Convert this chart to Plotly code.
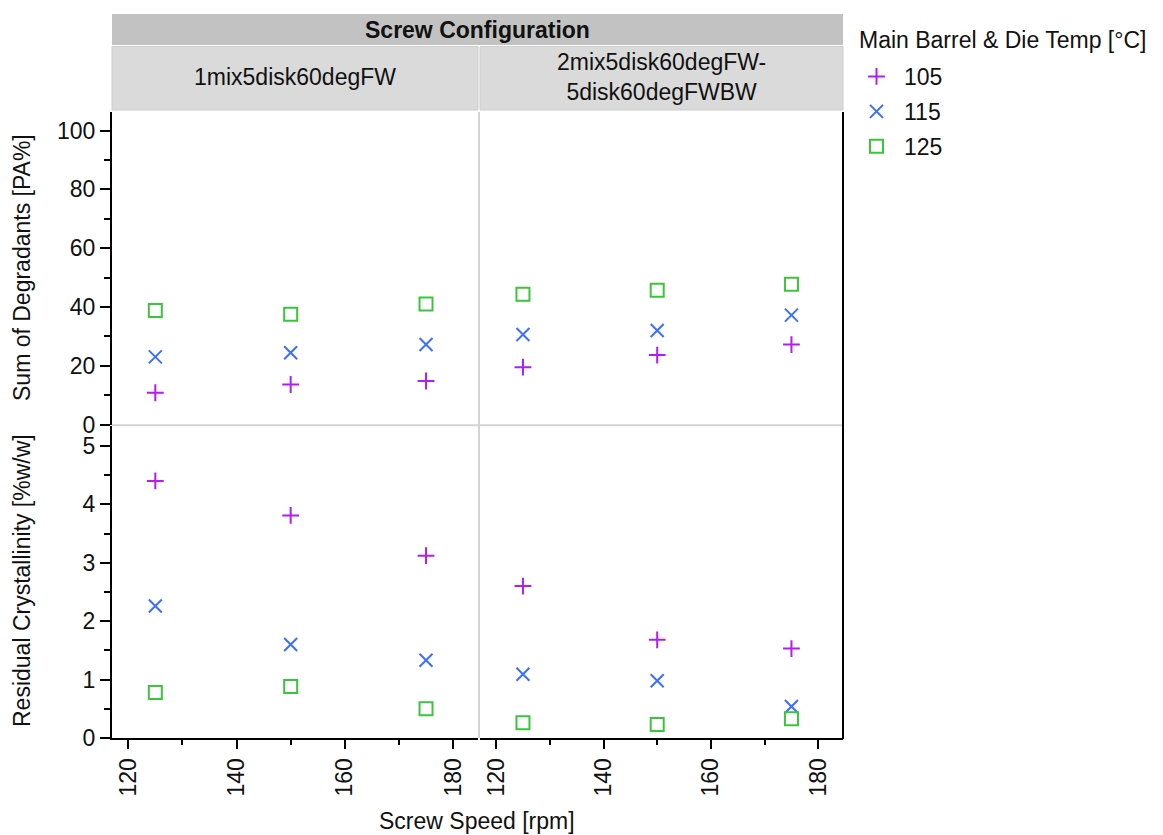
import plotly.graph_objects as go

# ---------------- data ----------------
speeds = [125, 150, 175]
configs = ["1mix5disk60degFW", "2mix5disk60degFW-<br>5disk60degFWBW"]
temps = ["105", "115", "125"]

degr_cfg1_105 = [10.8, 13.6, 14.8]
degr_cfg1_115 = [23.0, 24.4, 27.2]
degr_cfg1_125 = [38.8, 37.5, 41.0]
degr_cfg2_105 = [19.5, 23.6, 27.2]
degr_cfg2_115 = [30.6, 32.0, 37.2]
degr_cfg2_125 = [44.3, 45.7, 47.7]

cryst_cfg1_105 = [4.40, 3.81, 3.12]
cryst_cfg1_115 = [2.26, 1.60, 1.33]
cryst_cfg1_125 = [0.78, 0.88, 0.50]
cryst_cfg2_105 = [2.60, 1.68, 1.53]
cryst_cfg2_115 = [1.09, 0.98, 0.54]
cryst_cfg2_125 = [0.26, 0.23, 0.33]

x_ticks = [120, 140, 160, 180]

# ---------------- styling ----------------
W, H = 1163, 835
FONT = "Liberation Sans, Arial, sans-serif"
FS = 23

def px(x):
    return x / W

def py(y):
    return 1 - y / H

colors = {"105": "#B01EF5", "115": "#3C6EFF", "125": "#3CC43C"}
symbols = {"105": "cross-thin-open", "115": "x-thin-open", "125": "square-open"}
sizes = {"105": 12, "115": 13, "125": 13}

panels = [
    ("x", "y", {"105": degr_cfg1_105, "115": degr_cfg1_115, "125": degr_cfg1_125}),
    ("x2", "y2", {"105": degr_cfg2_105, "115": degr_cfg2_115, "125": degr_cfg2_125}),
    ("x3", "y3", {"105": cryst_cfg1_105, "115": cryst_cfg1_115, "125": cryst_cfg1_125}),
    ("x4", "y4", {"105": cryst_cfg2_105, "115": cryst_cfg2_115, "125": cryst_cfg2_125}),
]

fig = go.Figure()
for i, (xa, ya, d) in enumerate(panels):
    for t in temps:
        fig.add_trace(go.Scatter(
            x=speeds, y=d[t], xaxis=xa, yaxis=ya, mode="markers",
            name=t, legendgroup=t, showlegend=(i == 0),
            marker=dict(symbol=symbols[t], size=sizes[t], color=colors[t],
                        line=dict(color=colors[t], width=2)),
            cliponaxis=False,
        ))

col1 = [px(112), px(478)]
col2 = [px(480), px(843)]
top = [py(424.5), py(112)]
bot = [py(738), py(426)]

xr = [117.0, 184.6]
yr_top = [0, 106.3]
yr_bot = [0, 5.34]

tickfont = dict(family=FONT, size=FS, color="#111111")

def xaxis(domain, anchor, labels):
    return dict(domain=domain, anchor=anchor, range=xr, showgrid=False, zeroline=False,
                automargin=False,
                showline=labels, linecolor="black", linewidth=2,
                tickmode="array", tickvals=x_ticks,
                ticks="outside" if labels else "", ticklen=9, tickwidth=2, tickcolor="black",
                showticklabels=labels, tickangle=-90, tickfont=tickfont,
                minor=dict(dtick=10, tick0=0, ticks="outside" if labels else "", ticklen=5,
                           tickwidth=2, tickcolor="black", showgrid=False))

def yaxis(domain, anchor, rng, dtick, mdtick, labels):
    return dict(domain=domain, anchor=anchor, range=rng, showgrid=False, zeroline=False,
                automargin=False,
                showline=labels, linecolor="black", linewidth=2,
                tick0=0, dtick=dtick,
                ticks="outside" if labels else "", ticklen=10, tickwidth=2, tickcolor="black",
                showticklabels=labels, tickfont=tickfont,
                minor=dict(dtick=mdtick, tick0=0, ticks="outside" if labels else "", ticklen=6,
                           tickwidth=2, tickcolor="black", showgrid=False))

shapes = []
shapes.append(dict(type="rect", xref="paper", yref="paper", x0=px(112), x1=px(843),
                   y0=py(45), y1=py(14), fillcolor="#C2C2C2", line=dict(width=0), layer="below"))
shapes.append(dict(type="rect", xref="paper", yref="paper", x0=px(112), x1=px(478),
                   y0=py(110), y1=py(46.5), fillcolor="#DADADA", line=dict(width=1, color="#CDCDCD"), layer="below"))
shapes.append(dict(type="rect", xref="paper", yref="paper", x0=px(480), x1=px(843),
                   y0=py(110), y1=py(46.5), fillcolor="#DADADA", line=dict(width=1, color="#CDCDCD"), layer="below"))
shapes.append(dict(type="line", xref="paper", yref="paper", x0=px(479), x1=px(479),
                   y0=py(738), y1=py(112), line=dict(color="#D4D4D4", width=2), layer="below"))
shapes.append(dict(type="line", xref="paper", yref="paper", x0=px(112), x1=px(843),
                   y0=py(425.3), y1=py(425.3), line=dict(color="#D4D4D4", width=2), layer="below"))
shapes.append(dict(type="line", xref="paper", yref="paper", x0=px(843), x1=px(843),
                   y0=py(739), y1=py(112), line=dict(color="black", width=2)))

annotations = [
    dict(text="<b>Screw Configuration</b>", xref="paper", yref="paper", x=px(477.5), y=py(29.5),
         showarrow=False, font=dict(family=FONT, size=FS, color="#111111"), xanchor="center", yanchor="middle"),
    dict(text=configs[0], xref="paper", yref="paper", x=px(295), y=py(77),
         showarrow=False, font=dict(family=FONT, size=FS, color="#111111"), xanchor="center", yanchor="middle"),
    dict(text=configs[1], xref="paper", yref="paper", x=px(661.5), y=py(77),
         showarrow=False, font=dict(family=FONT, size=FS, color="#111111"), xanchor="center", yanchor="middle"),
    dict(text="Sum of Degradants [PA%]", xref="paper", yref="paper", x=px(22), y=py(268),
         showarrow=False, textangle=-90, font=dict(family=FONT, size=FS, color="#111111"),
         xanchor="center", yanchor="middle"),
    dict(text="Residual Crystallinity [%w/w]", xref="paper", yref="paper", x=px(22), y=py(581),
         showarrow=False, textangle=-90, font=dict(family=FONT, size=FS, color="#111111"),
         xanchor="center", yanchor="middle"),
    dict(text="Screw Speed [rpm]", xref="paper", yref="paper", x=px(477), y=py(821),
         showarrow=False, font=dict(family=FONT, size=FS, color="#111111"),
         xanchor="center", yanchor="middle"),
    dict(text="Main Barrel & Die Temp [°C]", xref="paper", yref="paper", x=px(857), y=py(40),
         showarrow=False, font=dict(family=FONT, size=FS, color="#111111"),
         xanchor="left", yanchor="middle"),
]

fig.update_layout(
    width=W, height=H, margin=dict(l=0, r=0, t=0, b=0, autoexpand=False),
    paper_bgcolor="white", plot_bgcolor="white",
    font=dict(family=FONT, size=FS, color="#111111"),
    xaxis=xaxis(col1, "y", False),
    xaxis2=xaxis(col2, "y2", False),
    xaxis3=xaxis(col1, "y3", True),
    xaxis4=xaxis(col2, "y4", True),
    yaxis=yaxis(top, "x", yr_top, 20, 10, True),
    yaxis2=yaxis(top, "x2", yr_top, 20, 10, False),
    yaxis3=yaxis(bot, "x3", yr_bot, 1, 0.5, True),
    yaxis4=yaxis(bot, "x4", yr_bot, 1, 0.5, False),
    shapes=shapes, annotations=annotations,
    legend=dict(x=px(849), y=py(55), xanchor="left", yanchor="top",
                font=dict(family=FONT, size=FS), traceorder="grouped", tracegroupgap=2,
                bgcolor="rgba(0,0,0,0)", itemwidth=45),
    showlegend=True,
)

fig.write_html("out.html")
